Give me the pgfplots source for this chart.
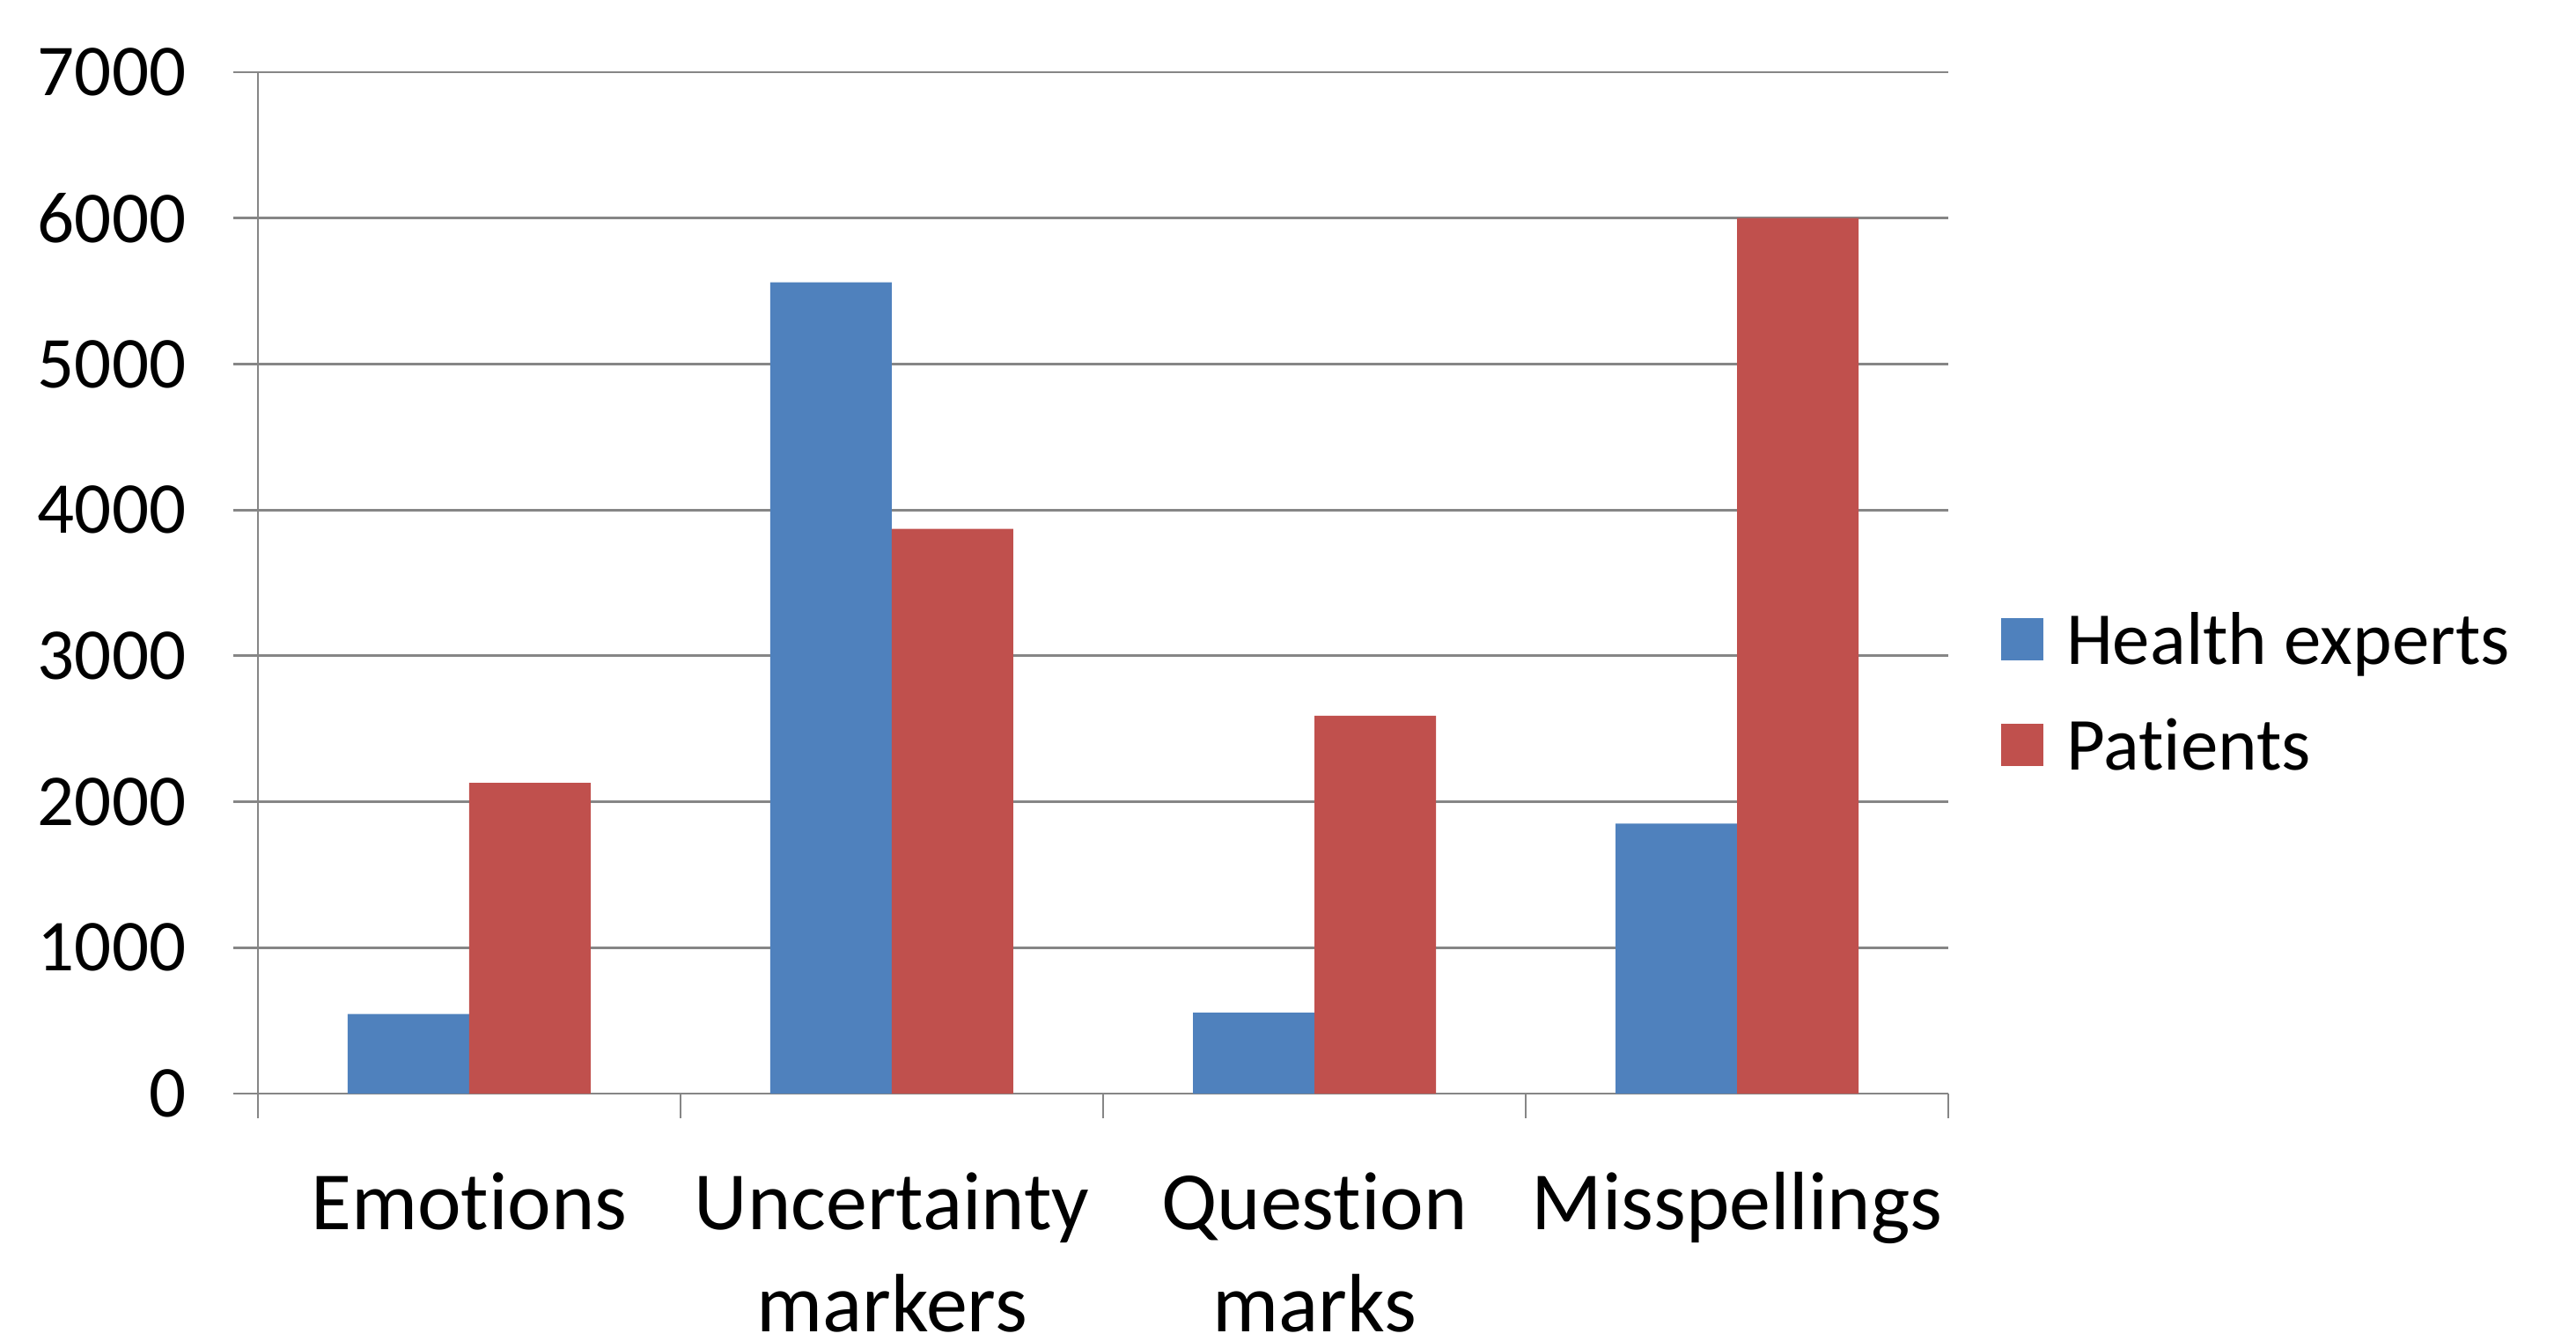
\documentclass[border=0pt]{standalone}
\usepackage{fontspec}
\setmainfont{Carlito}[Ligatures=NoCommon]
\usepackage{pgfplots}
\pgfplotsset{compat=1.18}
\definecolor{hblue}{RGB}{79,129,189}
\definecolor{pred}{RGB}{192,80,77}
\definecolor{gridgray}{RGB}{134,134,134}
\newcommand{\xl}[2]{\vtop{\baselineskip=29pt\halign{\hfil##\hfil\cr#1\cr#2\cr}}}
\begin{document}
\begin{tikzpicture}
\useasboundingbox (-73.25pt,-70pt) rectangle (658.25pt,310.5pt);
\begin{axis}[
  scale only axis, width=480pt, height=290pt,
  at={(0,0)}, anchor=south west,
  xmin=-0.5, xmax=3.5, ymin=0, ymax=7000,
  axis x line*=bottom, axis y line*=left,
  axis line style={gridgray, line width=0.7pt},
  ymajorgrids, grid style={gridgray, line width=0.7pt},
  tick style={gridgray, line width=0.7pt},
  tick align=outside, major tick length=7pt,
  ytick={0,1000,...,7000},
  /pgf/number format/assume math mode=true,
  /pgf/number format/1000 sep={},
  yticklabel style={font=\fontsize{20.75}{25}\selectfont, anchor=east, inner sep=0pt, xshift=-13.25pt},
  xtick={-0.5,0.5,1.5,2.5,3.5}, xticklabels={,,,,},
  extra x ticks={0,1,2,3},
  extra x tick labels={Emotions,\xl{Uncertainty}{markers},\xl{Question}{marks},Misspellings},
  extra x tick style={major tick length=0pt, tick style={draw=none},
    xticklabel style={font=\fontsize{23.5}{29}\selectfont, anchor=base, inner sep=0pt, yshift=-38.5pt}},
  bar width=0.2875,
  legend image code/.code={\path[#1,draw=none] (0pt,-6pt) rectangle (12pt,6pt);},
  legend style={draw=none, fill=none, inner sep=0pt, outer sep=0pt,
    at={(axis description cs:1.03125,0.4686)}, anchor=north west,
    column sep=6.5pt, row sep=16pt,
    font=\fontsize{21.25}{26}\selectfont,
    nodes={inner sep=0pt, outer sep=0pt, text height=14pt, text depth=0pt}},
  legend cell align=left,
]
\addplot[ybar, fill=hblue, draw=none, bar shift=-0.14375] coordinates {(0,545) (1,5560) (2,555) (3,1850)};
\addlegendentry{Health experts}
\addplot[ybar, fill=pred, draw=none, bar shift=0.14375] coordinates {(0,2130) (1,3870) (2,2590) (3,6000)};
\addlegendentry{Patients}
\end{axis}
\end{tikzpicture}
\end{document}
